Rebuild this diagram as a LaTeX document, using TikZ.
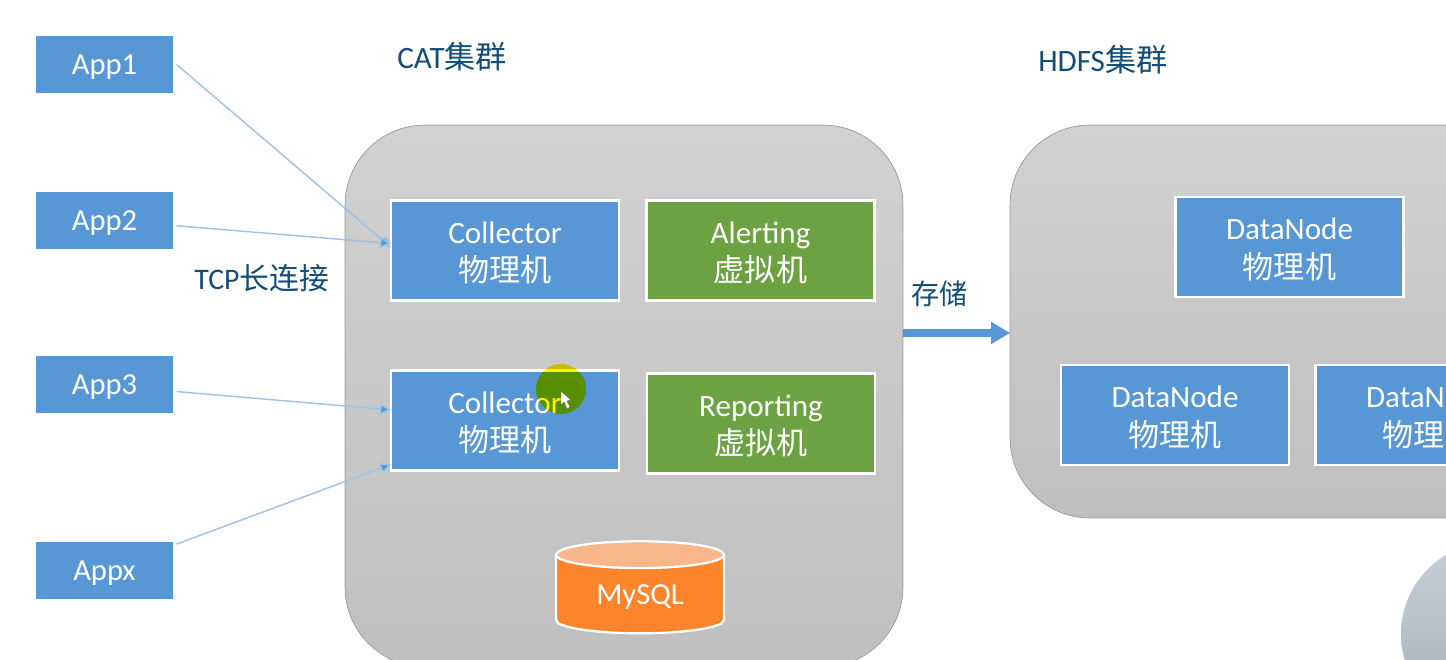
\documentclass[tikz,border=0pt]{standalone}
\usepackage{fontspec}
\setmainfont{Carlito}
\newfontfamily\cjk{Noto Sans CJK SC}
\usetikzlibrary{arrows.meta,positioning,shapes.geometric}

\definecolor{boxblue}{HTML}{5797D6}
\definecolor{boxgreen}{HTML}{6CA241}
\definecolor{dborange}{HTML}{FC842B}
\definecolor{dbtop}{HTML}{F9B68A}
\definecolor{titleblue}{HTML}{134D78}
\definecolor{linkblue}{HTML}{9CC2E5}
\definecolor{ballhi}{HTML}{C8CED8}
\definecolor{balllo}{HTML}{A9AFB9}

% Two line box text: role, then machine type
\newcommand{\boxtext}[2]{\rule{0pt}{15pt}#1\\{\cjk #2}}

\begin{document}
\begin{tikzpicture}[
  x=0.02cm, y=-0.02cm,
  panel/.style={draw=black!40, line width=0.4pt, rounded corners=1.6cm, top color=black!18, bottom color=black!25, outer sep=0pt},
  appbox/.style={fill=boxblue, text=white, font=\fontsize{17.4}{21}\selectfont, text depth=0pt, minimum width=2.74cm, minimum height=1.14cm, outer sep=0pt},
  hostbox/.style={fill=boxblue, draw=white, line width=1.6pt, text=white, align=center, font=\fontsize{17.7}{22}\selectfont, minimum width=4.56cm, minimum height=2cm, outer sep=0pt},
  vmbox/.style={hostbox, fill=boxgreen},
  title/.style={text=titleblue, font=\fontsize{17.7}{21}\selectfont, inner sep=0pt},
  link/.style={draw=linkblue, line width=0.8pt, -{Triangle[length=0.22cm,width=0.22cm,fill=boxblue]}},
  store/.style={draw=boxblue, line width=4pt, -{Triangle[length=0.38cm,width=0.42cm,fill=boxblue]}}
]

\useasboundingbox (0,0) rectangle (1446,659);
\clip (0,0) rectangle (1446,659);
\fill[white] (0,0) rectangle (1446,659);

% Panels
\node[panel, minimum width=11.16cm, minimum height=10.84cm] (cat) at (624,396) {};
\node[panel, minimum width=11.2cm, minimum height=7.86cm] (hdfs) at (1290,321.5) {};
\shade[top color=ballhi, bottom color=balllo] (1493,634) circle (92);

% Titles
\node[title, anchor=west] (cattitle) at (397,57) {CAT{\cjk 集群}};
\node[title, anchor=west] (hdfstitle) at (1038,60) {HDFS{\cjk 集群}};
\node[title, anchor=west, font=\fontsize{17}{21}\selectfont] (tcp) at (194,278) {TCP{\cjk 长连接}};
\node[title, anchor=west, font=\fontsize{16}{19}\selectfont] (save) at (911,294) {\cjk 存储};

% Apps
\node[appbox] (app1) at (104.5,64.5) {App1};
\node[appbox] (app2) at (104.5,220.5) {App2};
\node[appbox] (app3) at (104.5,384.5) {App3};
\node[appbox] (appx) at (104.5,570.5) {Appx};

% CAT cluster
\node[hostbox] (col1) at (505,250.5) {\boxtext{Collector}{物理机}};
\node[hostbox] (col2) at (505,420.5) {\boxtext{Collector}{物理机}};
\node[vmbox] (alert) at (760.5,250.5) {\boxtext{Alerting}{虚拟机}};
\node[vmbox] (report) at (761,423.5) {\boxtext{Reporting}{虚拟机}};

\node[cylinder, shape border rotate=90, aspect=0.27, draw=white, line width=1.3pt,
  cylinder uses custom fill, cylinder body fill=dborange, cylinder end fill=dbtop,
  minimum width=3.36cm, minimum height=1.84cm, text=white, font=\fontsize{17.4}{21}\selectfont,
  outer sep=0pt] (mysql) at (640,597) {MySQL};

% HDFS cluster
\node[hostbox] (dn1) at (1289.5,247) {\boxtext{DataNode}{物理机}};
\node[hostbox] (dn2) at (1175,415) {\boxtext{DataNode}{物理机}};
\node[hostbox] (dn3) at (1429.5,415) {\boxtext{DataNode}{物理机}};

% Links
\draw[link] ([xshift=2pt]app1.east) -- ([yshift=1.7pt]col1.west);
\draw[link] ([xshift=2pt,yshift=-3pt]app2.east) -- ([yshift=4pt]col1.west);
\draw[link] ([xshift=2pt,yshift=-4pt]app3.east) -- ([yshift=6pt]col2.west);
\draw[link] ([xshift=2pt,yshift=15pt]appx.east) -- ([yshift=-25pt]col2.west);

\coordinate (storeout) at (903,333);
\draw[store] (storeout) -- (storeout -| hdfs.west);

% Cursor highlight
\fill[yellow, blend mode=multiply] (561,389) circle (25);
\filldraw[white, draw=black!70, line width=0.2pt] (561,391) -- (561,405) -- (564,402) -- (567,409) -- (570,407) -- (567,401) -- (571,400) -- cycle;

\end{tikzpicture}
\end{document}
